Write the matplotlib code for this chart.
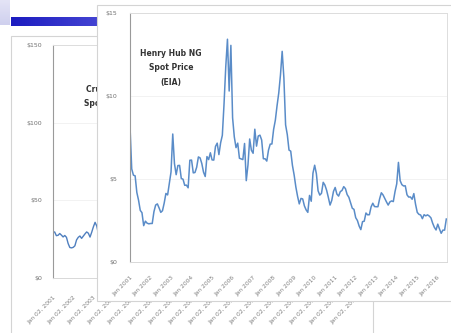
'''
Henry Hub NG spot price slide, overlapping a crude oil chart
'''

# Imports
import numpy as np
import matplotlib
matplotlib.use('Agg')
import matplotlib.pyplot as plt
from matplotlib.patches import Rectangle
from matplotlib.colors import LinearSegmentedColormap

# Data (monthly averages, Jan 2001 - Jun 2016)
START_YEAR = 2001
NG_PRICE = [
    8.17, 5.61, 5.23, 5.19, 4.19, 3.72, 3.11, 2.97, 2.19, 2.46, 2.34, 2.30,
    2.32, 2.32, 3.03, 3.43, 3.50, 3.26, 2.99, 3.09, 3.55, 4.13, 4.04, 4.74,
    5.43, 7.71, 5.93, 5.26, 5.81, 5.82, 5.03, 4.99, 4.62, 4.63, 4.47, 6.13,
    6.14, 5.37, 5.39, 5.71, 6.33, 6.27, 5.93, 5.41, 5.15, 6.35, 6.17, 6.58,
    6.15, 6.14, 6.96, 7.16, 6.47, 7.18, 7.63, 9.53, 11.75, 13.42, 10.30, 13.05,
    8.69, 7.54, 6.89, 7.16, 6.25, 6.21, 6.17, 7.14, 4.90, 5.85, 7.41, 6.73,
    6.55, 8.00, 6.98, 7.59, 7.64, 7.35, 6.22, 6.22, 6.08, 6.74, 7.10, 7.11,
    7.99, 8.54, 9.41, 10.18, 11.27, 12.69, 11.09, 8.26, 7.67, 6.74, 6.68, 5.82,
    5.24, 4.52, 3.96, 3.50, 3.83, 3.80, 3.38, 3.14, 2.99, 4.01, 3.66, 5.35,
    5.83, 5.32, 4.29, 4.03, 4.14, 4.80, 4.63, 4.32, 3.89, 3.43, 3.71, 4.25,
    4.49, 4.09, 3.97, 4.24, 4.31, 4.54, 4.42, 4.06, 3.90, 3.57, 3.24, 3.17,
    2.67, 2.50, 2.17, 1.95, 2.43, 2.46, 2.95, 2.84, 2.85, 3.32, 3.54, 3.34,
    3.33, 3.33, 3.81, 4.17, 4.04, 3.83, 3.62, 3.43, 3.62, 3.68, 3.64, 4.24,
    4.71, 6.00, 4.90, 4.66, 4.58, 4.59, 4.05, 3.91, 3.92, 3.78, 4.12, 3.48,
    2.99, 2.87, 2.83, 2.61, 2.85, 2.78, 2.84, 2.77, 2.66, 2.34, 2.09, 1.93,
    2.28, 1.99, 1.73, 1.92, 1.92, 2.59,
]
OIL_PRICE = [
    29.59, 29.61, 27.25, 27.49, 28.63, 27.60, 26.43, 27.37, 26.20, 22.17, 19.64, 19.39,
    19.72, 20.72, 24.53, 26.18, 27.04, 25.52, 26.97, 28.39, 29.66, 28.84, 26.35, 29.46,
    32.95, 35.83, 33.51, 28.17, 28.11, 30.66, 30.76, 31.57, 28.31, 30.34, 31.11, 32.13,
    34.31, 34.69, 36.74, 36.75, 40.28, 38.03, 40.78, 44.90, 45.94, 53.28, 48.47, 43.15,
    46.84, 48.15, 54.19, 52.98, 49.83, 56.35, 58.99, 64.98, 65.59, 62.26, 58.32, 59.41,
    65.49, 61.63, 62.69, 69.44, 70.84, 70.95, 74.41, 73.04, 63.80, 58.89, 59.08, 61.96,
    54.51, 59.28, 60.44, 63.98, 63.46, 67.49, 74.12, 72.36, 79.92, 85.80, 94.77, 91.69,
    92.97, 95.39, 105.45, 112.58, 125.40, 133.88, 133.37, 116.67, 104.11, 76.61, 57.31, 41.12,
    41.71, 39.09, 47.94, 49.65, 59.03, 69.64, 64.15, 71.05, 69.41, 75.72, 77.99, 74.47,
    78.33, 76.39, 81.20, 84.29, 73.74, 75.34, 76.32, 76.60, 75.24, 81.89, 84.25, 89.15,
    89.17, 88.58, 102.86, 109.53, 100.90, 96.26, 97.30, 86.33, 85.52, 86.32, 97.16, 98.56,
    100.27, 102.20, 106.16, 103.32, 94.66, 82.30, 87.90, 94.13, 94.51, 89.49, 86.53, 87.86,
    94.76, 95.31, 92.94, 92.02, 94.51, 95.77, 104.67, 106.57, 106.29, 100.54, 93.86, 97.63,
    94.62, 100.82, 100.80, 102.07, 102.18, 105.79, 103.59, 96.54, 93.21, 84.40, 75.79, 59.29,
    47.22, 50.58, 47.82, 54.45, 59.27, 59.82, 50.90, 42.87, 45.48, 46.22, 42.44, 37.19,
    31.68, 30.32, 37.55, 40.75, 46.71, 48.76,
]
TICK_YEARS = list(range(2001, 2017))
NG_TICKS = [0, 5, 10, 15]
OIL_TICKS = [0, 50, 100, 150]
NG_TITLE = 'Henry Hub NG\nSpot Price\n(EIA)'
OIL_TITLE = 'Crude Oil\nSpot Price'

# Util Functions
W, H = 452, 333

def Box(x0, y0, x1, y1):
    # pixel box (top-left origin) -> figure fraction
    return [x0 / W, 1 - y1 / H, (x1 - x0) / W, (y1 - y0) / H]

def Panel(fig, x0, y0, x1, y1, z):
    b = Box(x0, y0, x1, y1)
    r = Rectangle((b[0], b[1]), b[2], b[3], transform=fig.transFigure,
                  facecolor='white', edgecolor='#d4d4d4', lw=0.8, zorder=z)
    fig.add_artist(r)

def StyleAxes(ax, ticks, labels_x, fmt, ypad, xpad):
    ax.set_yticks(ticks)
    ax.set_yticklabels([fmt % t for t in ticks], fontsize=4.5, color='#707070')
    ax.set_xticks(TICK_YEARS)
    ax.set_xticklabels(labels_x, fontsize=4.3, color='#808080', rotation=45,
                       ha='right', rotation_mode='anchor')
    ax.tick_params(length=0)
    ax.tick_params(axis='y', pad=ypad)
    ax.tick_params(axis='x', pad=xpad)
    ax.grid(axis='y', color='#f0f0f0', lw=0.6)
    ax.set_axisbelow(True)
    for s in ['top', 'right']:
        ax.spines[s].set_color('#dddddd')
        ax.spines[s].set_linewidth(0.7)
    ax.spines['left'].set_color('#9a9a9a')
    ax.spines['bottom'].set_color('#d8d8d8')
    ax.spines['left'].set_linewidth(0.8)
    ax.spines['bottom'].set_linewidth(0.7)

# Main
fig = plt.figure(figsize=(W / 100, H / 100), dpi=100)
fig.patch.set_facecolor('white')

x_ng = START_YEAR + np.arange(len(NG_PRICE)) / 12.0
x_oil = START_YEAR + np.arange(len(OIL_PRICE)) / 12.0

# slide decoration: corner + blue bar
corner = fig.add_axes(Box(0, 0, 10, 25))
corner.imshow(np.linspace(0, 1, 50).reshape(-1, 1),
              cmap=LinearSegmentedColormap.from_list('c', ['#e4e4f6', '#cfd0ee']),
              aspect='auto', extent=(0, 1, 0, 1))
corner.axis('off')
bar = fig.add_axes(Box(11, 17, 97, 26))
bar.imshow(np.linspace(0, 1, 100).reshape(1, -1),
           cmap=LinearSegmentedColormap.from_list('b', ['#1c1cc0', '#4343d2']),
           aspect='auto', extent=(0, 1, 0, 1))
bar.axis('off')

# back chart (crude oil)
Panel(fig, 11, 36, 373, 340, 1)
axB = fig.add_axes(Box(53, 45, 365, 278))
axB.set_zorder(2)
axB.plot(x_oil, OIL_PRICE, color='#4f7fbf', lw=1.0)
axB.set_xlim(2001, 2016.45)
axB.set_ylim(0, 150)
StyleAxes(axB, OIL_TICKS, ['Jan 02, %d' % y for y in TICK_YEARS], '$%d', 8, 12)
axB.text(0.17, 0.83, OIL_TITLE, transform=axB.transAxes, ha='center', va='top',
         fontsize=5.5, fontweight='bold', color='#333333', linespacing=1.7)

# front chart (Henry Hub)
Panel(fig, 97, 5, 460, 301, 3)
axF = fig.add_axes(Box(130, 13, 447, 262))
axF.set_zorder(4)
axF.plot(x_ng, NG_PRICE, color='#5a8cc8', lw=1.1)
axF.set_xlim(2001, 2016.45)
axF.set_ylim(0, 15)
StyleAxes(axF, NG_TICKS, ['Jan %d' % y for y in TICK_YEARS], '$%d', 9, 9)
axF.text(0.13, 0.855, NG_TITLE, transform=axF.transAxes, ha='center', va='top',
         fontsize=5.5, fontweight='bold', color='#333333', linespacing=1.75)

fig.savefig('out.png', dpi=100, facecolor='white')
